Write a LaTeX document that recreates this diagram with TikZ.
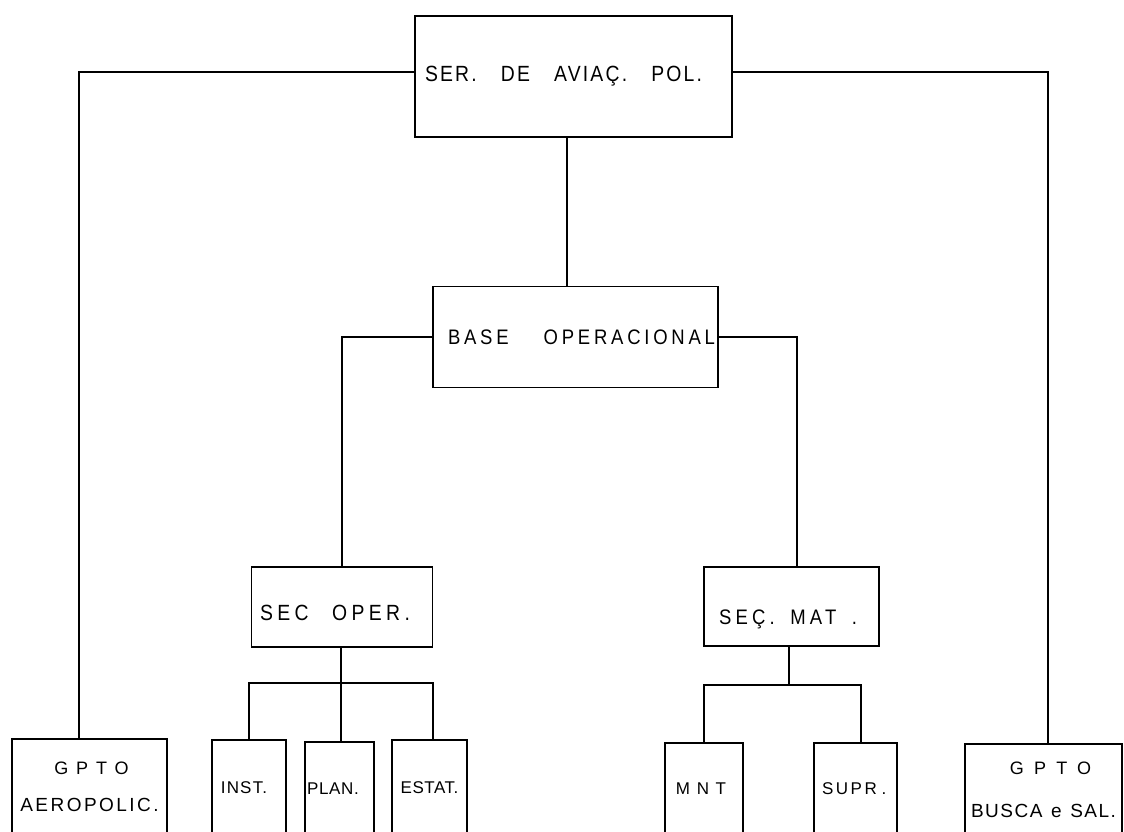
\documentclass[tikz,border=0pt]{standalone}
\usepackage{fontspec}
\newfontfamily\lblfont[FakeStretch=0.88]{Liberation Sans}
\newfontfamily\lblwide{Liberation Sans}
\newcommand\lab[4]{{\fontsize{#1pt}{#1pt}\lblfont\addfontfeature{LetterSpace=#2}\makebox[#3pt][s]{#4}}}
\newcommand\labw[4]{{\fontsize{#1pt}{#1pt}\lblwide\addfontfeature{LetterSpace=#2}\makebox[#3pt][s]{#4}}}
\newcommand\labn[3]{{\fontsize{#1pt}{#1pt}\lblwide\addfontfeature{LetterSpace=#2}#3}}
\begin{document}
\begin{tikzpicture}[x=1pt,y=-1pt,
  box/.style={draw, line width=1.3pt, rectangle, inner sep=0pt, outer sep=0pt},
  obox/.style={rectangle, inner sep=0pt, outer sep=0pt},
  link/.style={line width=1.3pt}]
\useasboundingbox (0,0) rectangle (1124,831);
\fill[white] (0,0) rectangle (1124,831);
% closed boxes
\node[box, minimum width=317pt, minimum height=121pt] (top) at (573.5,76.5)
  {\hspace*{-20pt}\lab{22}{10}{277}{SER. DE AVIAÇ. POL.}};
\node[box, minimum width=285pt, minimum height=101pt] (base) at (575.5,337)
  {\hspace*{12pt}\lab{21}{18}{267}{BASE OPERACIONAL}};
\node[box, minimum width=181pt, minimum height=80pt, text height=27pt, text depth=0pt] (secop) at (342,607)
  {\hspace*{-14pt}\lab{22}{20}{150}{SEC OPER.}};
\node[box, minimum width=175pt, minimum height=79pt, text height=36pt, text depth=0pt] (secmat) at (791.5,606.5)
  {\hspace*{-7pt}\lab{21}{20}{138}{SEÇ. MAT .}};
% open-bottom boxes
\node[obox, minimum width=155pt, minimum height=96pt, align=center,
  font=\fontsize{18pt}{37pt}\selectfont] (aero) at (89.5,787)
  {\hspace*{4pt}\labn{18}{44}{GPTO}\\\labn{19}{13}{AEROPOLIC.}};
\node[obox, minimum width=74pt, minimum height=95pt] (inst) at (249,787.5)
  {\hspace*{-10pt}\labn{17}{7}{INST.}};
\node[obox, minimum width=69pt, minimum height=93pt] (plan) at (339.5,788.5)
  {\hspace*{-13pt}\labn{17}{4}{PLAN.}};
\node[obox, minimum width=75pt, minimum height=95pt] (estat) at (429.5,787.5)
  {\labn{17}{3}{ESTAT.}};
\node[obox, minimum width=78pt, minimum height=92pt] (mnt) at (704,789)
  {\hspace*{-6pt}\labn{17}{39}{MNT}};
\node[obox, minimum width=83pt, minimum height=92pt] (supr) at (855.5,789)
  {\hspace*{-4pt}\labw{17}{15}{63}{SUPR .}};
\node[obox, minimum width=157pt, minimum height=91pt, align=center,
  font=\fontsize{18pt}{43pt}\selectfont] (busca) at (1043.5,789.5)
  {\hspace*{14pt}\labn{18}{57}{GPTO}\\\labw{19}{8}{145}{BUSCA e SAL.}};
\foreach \n in {aero,inst,plan,estat,mnt,supr,busca}
  \draw[link] (\n.south west) |- (\n.north east) -- (\n.south east);
% connectors
\draw[link] ([yshift=4.5pt]top.west) -| ([xshift=-10.5pt]aero.north);
\draw[link] ([yshift=4.5pt]top.east) -| ([xshift=4.5pt]busca.north);
\draw[link] ([xshift=-6.5pt]top.south) -- ([xshift=-8.5pt]base.north);
\draw[link] (base.west) -| (secop.north);
\draw[link] (base.east) -| ([xshift=5.5pt]secmat.north);
\coordinate (b1) at (341,683);
\draw[link] ([xshift=-1pt]secop.south) -- (b1);
\draw[link] (inst.north) |- ([xshift=3.5pt]estat.north |- b1) -- ([xshift=3.5pt]estat.north);
\draw[link] ([xshift=1.5pt]plan.north) -- ([xshift=1.5pt]plan.north |- b1);
\coordinate (b2) at (789,685);
\draw[link] ([xshift=-2.5pt]secmat.south) -- (b2);
\draw[link] (mnt.north) |- ([xshift=5.5pt]supr.north |- b2) -- ([xshift=5.5pt]supr.north);
\end{tikzpicture}
\end{document}
